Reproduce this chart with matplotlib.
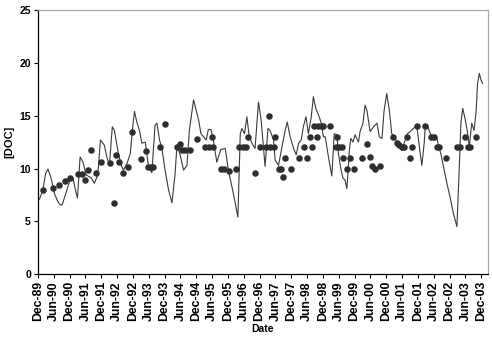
import matplotlib
matplotlib.use("Agg")
import matplotlib.pyplot as plt

plt.rcParams['font.family'] = ['Liberation Sans', 'DejaVu Sans']

# months counted from Dec-89
line_month = [0.6, 1.9, 2.9, 3.8, 5.0, 6.3, 7.6, 8.5, 9.2, 10.5, 11.4, 12.2, 13.3, 14.2, 15.0,
              16.0, 17.1, 18.3, 20.2, 21.4, 22.7, 23.7, 25.2, 26.1, 27.1, 28.2, 29.0, 30.3,
              31.6, 32.4, 33.8, 35.0, 36.0, 36.6, 37.5, 38.5, 39.4, 40.7, 41.9, 43.2, 44.4,
              45.1, 46.1, 47.0, 48.2, 49.5, 50.8, 52.0, 52.7, 53.9, 55.2, 56.5, 57.4, 59.0,
              60.0, 60.9, 61.8, 62.8, 63.8, 64.6, 65.6, 66.5, 67.8, 69.3, 71.0, 72.2, 74.1,
              75.8, 76.7, 77.3, 78.3, 79.2, 80.1, 81.1, 82.3, 83.6, 84.6, 85.5, 86.1, 87.2,
              88.0, 89.3, 89.9, 91.2, 92.5, 93.7, 94.5, 95.6, 96.9, 97.9, 98.8, 99.8, 100.6,
              101.6, 102.5, 103.6, 104.4, 105.3, 106.3, 107.4, 108.2, 108.9, 110.1, 111.4,
              112.3, 113.3, 113.9, 114.8, 115.6, 116.4, 117.1, 118.1, 118.6, 119.4, 120.2,
              121.5, 122.1, 123.2, 124.0, 124.7, 125.9, 127.2, 128.5, 129.4, 130.4, 131.2,
              132.2, 133.2, 134.1, 135.4, 136.6, 137.9, 139.2, 140.1, 141.1, 143.0, 143.6,
              144.9, 145.5, 146.4, 146.8, 147.6, 148.7, 149.9, 151.2, 151.8, 152.7, 153.7,
              155.0, 156.2, 157.5, 158.8, 159.8, 160.3, 161.0, 161.9, 162.7, 163.5, 164.4,
              165.3, 166.1, 166.6, 167.3, 167.9, 168.5]
line_doc = [7.1, 8.0, 9.5, 9.95, 9.1, 7.6, 6.85, 6.55, 6.55, 7.6, 8.3, 8.9, 9.1, 8.0, 7.2,
            11.1, 10.6, 9.4, 9.1, 8.6, 9.4, 12.7, 12.2, 11.1, 10.3, 13.95, 13.6, 11.7,
            10.3, 9.85, 10.5, 11.4, 14.1, 15.4, 14.4, 13.6, 12.4, 12.5, 10.2, 9.6, 14.1,
            14.3, 12.7, 11.9, 9.85, 8.0, 6.75, 9.5, 12.2, 11.3, 9.85, 10.3, 13.6, 16.5,
            15.5, 14.6, 13.3, 13.0, 12.7, 13.7, 13.7, 12.7, 10.6, 11.8, 11.9, 9.85, 7.6,
            5.4, 13.3, 13.8, 13.3, 14.9, 13.0, 12.4, 11.9, 16.3, 14.6, 11.9, 10.2, 13.8,
            13.6, 12.7, 10.8, 10.3, 12.05, 13.6, 14.4, 13.0, 11.9, 11.3, 12.4, 12.7, 13.95,
            14.9, 13.3, 14.9, 16.8, 15.7, 15.1, 14.3, 13.0, 13.0, 11.1, 9.3,
            13.3, 13.2, 11.4, 10.0, 9.1, 8.9, 8.1, 11.9, 12.85, 12.5, 13.2,
            12.5, 13.5, 14.3, 16.0, 15.5, 13.5, 13.95, 14.3, 13.0, 12.85, 15.5,
            17.1, 15.5, 13.3, 12.85, 12.2, 11.7, 12.7, 13.3, 13.5, 13.95, 14.0,
            11.4, 10.3, 12.4, 14.1, 14.1, 13.3, 12.7, 12.85, 12.2, 11.4, 10.2,
            8.6, 7.3, 5.7, 4.5, 10.8, 14.3, 15.7, 14.7, 13.6, 12.05, 14.3,
            13.6, 15.5, 18.05, 19.0, 18.4, 18.05]

obs_month = [1.9, 5.9, 8.0, 10.3, 12.1, 15.2, 16.8, 17.8, 18.9, 20.1, 22.1, 24.0, 27.4, 28.8,
             29.7, 30.9, 32.4, 34.1, 35.7, 39.1, 40.8, 41.9, 42.9, 43.8, 46.1, 48.1, 52.7,
             53.7, 54.6, 55.6, 57.7, 60.3, 63.5, 64.8, 65.8, 66.5, 69.3, 70.6, 72.6, 75.1,
             76.4, 77.9, 78.8, 79.8, 82.1, 84.0, 86.6, 87.4, 88.1, 89.5, 89.9, 91.2, 92.1,
             92.8, 93.8, 96.0, 98.8, 100.9, 101.9, 103.1, 103.8, 104.8, 105.8, 106.1, 107.2,
             108.1, 110.8, 112.9, 113.5, 114.2, 115.2, 115.8, 117.1, 118.1, 119.9, 122.8,
             124.9, 125.9, 126.6, 127.8, 129.7, 134.7, 136.0, 137.0, 138.1, 138.7, 139.8,
             141.1, 141.9, 143.6, 146.8, 149.0, 150.0, 151.2, 152.1, 154.6, 158.8, 160.1,
             162.0, 162.9, 163.8, 166.1]
obs_doc = [8.0, 8.2, 8.4, 8.8, 9.1, 9.5, 9.5, 8.9, 9.9, 11.8, 9.6, 10.6, 10.5, 6.7,
           11.3, 10.6, 9.6, 10.1, 13.5, 10.9, 11.7, 10.1, 10.1, 10.1, 12.0, 14.2, 12.0,
           12.3, 11.8, 11.8, 11.8, 12.8, 12.0, 12.0, 13.0, 12.0, 10.0, 10.0, 9.8, 10.0,
           12.0, 12.0, 12.0, 13.0, 9.6, 12.0, 12.0, 15.0, 12.0, 12.0, 13.0, 10.0, 10.0,
           9.2, 11.0, 10.0, 11.0, 12.0, 11.0, 13.0, 12.0, 14.0, 13.0, 14.0, 14.0,
           14.0, 14.0, 12.0, 13.0, 12.0, 12.0, 11.0, 10.0, 11.0, 10.0, 11.0,
           12.3, 11.1, 10.2, 10.0, 10.2, 13.0, 12.4, 12.2, 12.0, 12.0, 13.0,
           11.0, 12.0, 14.0, 14.0, 13.0, 13.0, 12.0, 12.0, 11.0, 12.0, 12.0,
           13.0, 12.0, 12.0, 13.0]

tick_labels = ['Dec-89', 'Jun-90', 'Dec-90', 'Jun-91', 'Dec-91', 'Jun-92', 'Dec-92', 'Jun-93',
               'Dec-93', 'Jun-94', 'Dec-94', 'Jun-95', 'Dec-95', 'Jun-96', 'Dec-96', 'Jun-97',
               'Dec-97', 'Jun-98', 'Dec-98', 'Jun-99', 'Dec-99', 'Jun-00', 'Dec-00', 'Jun-01',
               'Dec-01', 'Jun-02', 'Dec-02', 'Jun-03', 'Dec-03']
tick_pos = [6 * i for i in range(len(tick_labels))]

fig = plt.figure(figsize=(4.92, 3.38), dpi=100)
ax = fig.add_axes([0.077, 0.189, 0.915, 0.781])

ax.plot(line_month, line_doc, color='#3a3a3a', lw=0.8)
ax.scatter(obs_month, obs_doc, s=22, color='#2e2e2e', zorder=3, linewidths=0)

ax.set_xlim(0, 170.6)
ax.set_ylim(0, 25)
ax.set_yticks([0, 5, 10, 15, 20, 25])
ax.set_xticks(tick_pos)
ax.set_xticklabels(tick_labels, rotation=90, fontsize=8.8, fontweight='bold')
for lab in ax.get_yticklabels():
    lab.set_fontweight('bold')
    lab.set_fontsize(7.5)
ax.tick_params(axis='both', direction='out', length=3, width=0.8, pad=2)

for side in ['top', 'right']:
    ax.spines[side].set_color('#a8a8a8')
    ax.spines[side].set_linewidth(0.9)
for side in ['left', 'bottom']:
    ax.spines[side].set_color('black')
    ax.spines[side].set_linewidth(0.9)

ax.set_ylabel('[DOC]', fontsize=8, fontweight='bold')
ax.yaxis.set_label_coords(-0.053, 0.5)
ax.set_xlabel('Date', fontsize=7.5, fontweight='bold')
ax.xaxis.set_label_coords(0.5, -0.19)

fig.savefig('out.png', dpi=100)
